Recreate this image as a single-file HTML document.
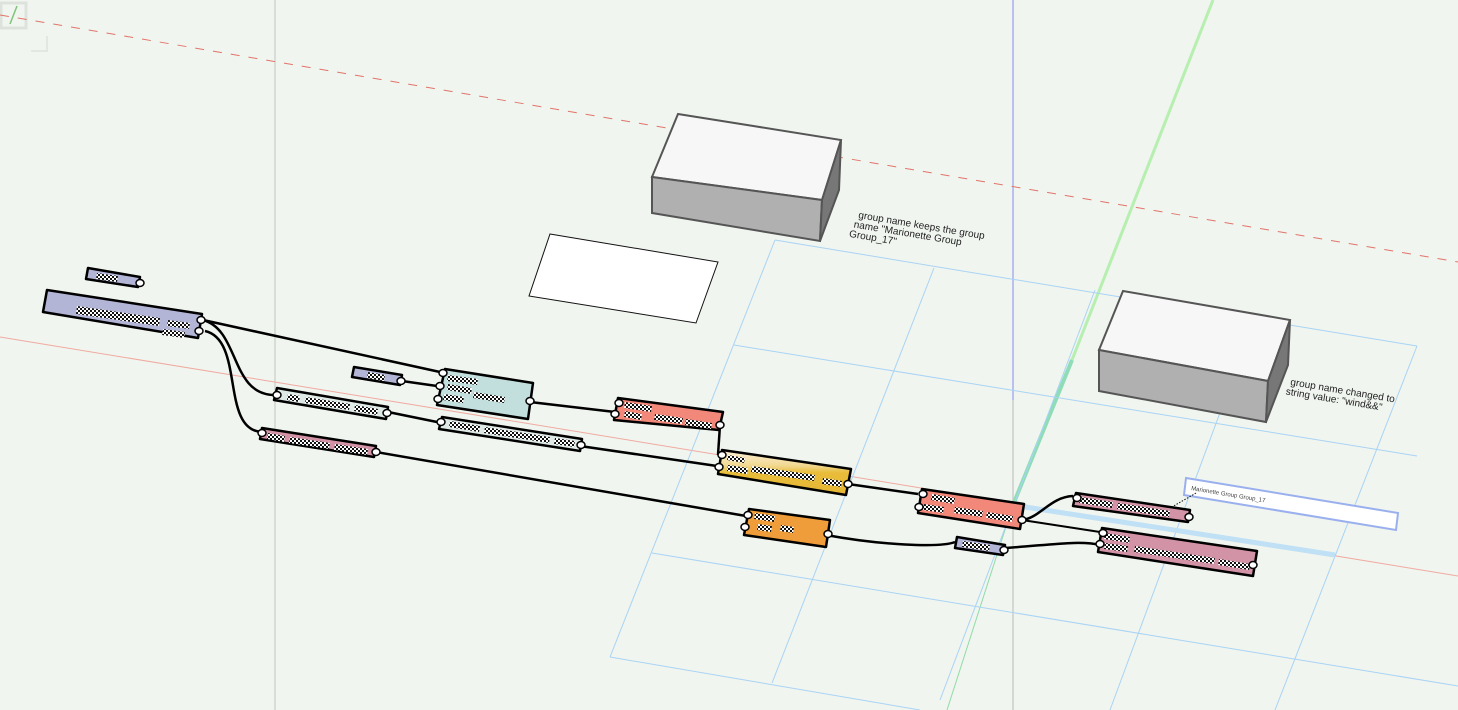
<!DOCTYPE html>
<html><head><meta charset="utf-8"><style>
html,body{margin:0;padding:0;background:#f0f5ef;}
svg{display:block;}
text{font-family:"Liberation Sans",sans-serif;}
</style></head><body>
<svg width="1458" height="710" viewBox="0 0 1458 710" xmlns="http://www.w3.org/2000/svg">
<defs>
<pattern id="ck" width="4" height="4" patternUnits="userSpaceOnUse">
<rect width="4" height="4" fill="#fff"/><rect width="2" height="2" fill="#111"/><rect x="2" y="2" width="2" height="2" fill="#111"/>
</pattern>
<linearGradient id="yel" x1="0" y1="0" x2="0" y2="1"><stop offset="0" stop-color="#fbf0d8"/><stop offset="0.35" stop-color="#f1d890"/><stop offset="0.5" stop-color="#e8bd3a"/><stop offset="1" stop-color="#e6b634"/></linearGradient>
</defs>
<rect width="1458" height="710" fill="#f0f5ef"/>
<rect x="1" y="3" width="25" height="25" fill="none" stroke="#dde2dc" stroke-width="3"/>
<path d="M31 51 H47 V36" fill="none" stroke="#e3e7e2" stroke-width="2"/>
<line x1="17" y1="6" x2="10" y2="24" stroke="#7ec47a" stroke-width="1.5"/>
<line x1="275" y1="0" x2="275" y2="710" stroke="#cfd5cf" stroke-width="1.5"/>
<line x1="1013" y1="0" x2="1013" y2="400" stroke="#a9b0ee" stroke-width="1.5"/>
<line x1="1013" y1="400" x2="1013" y2="710" stroke="#c9cfca" stroke-width="1.5"/>
<line x1="0" y1="15" x2="1458" y2="262" stroke="#e2746a" stroke-width="1" stroke-dasharray="9,9"/>
<line x1="0" y1="337" x2="1458" y2="576" stroke="#f0aaa0" stroke-width="1"/>
<line x1="1213" y1="0" x2="1072" y2="360" stroke="#b6efb0" stroke-width="3"/>
<line x1="1072" y1="360" x2="1013" y2="505" stroke="#8fdcb8" stroke-width="4"/>
<line x1="1013" y1="505" x2="947" y2="710" stroke="#8fdca8" stroke-width="1"/>
<g stroke="#a9d3f5" stroke-width="1" fill="none">
<line x1="775" y1="240" x2="1417" y2="346"/>
<line x1="734" y1="345" x2="1417" y2="456"/>
<line x1="652" y1="553" x2="1458" y2="686"/>
<line x1="610" y1="657" x2="920" y2="710"/>
<line x1="775" y1="240" x2="610" y2="657"/>
<line x1="934" y1="268" x2="772" y2="683"/>
<line x1="1095" y1="290" x2="940" y2="700"/>
<line x1="1255" y1="318" x2="1110" y2="710"/>
<line x1="1417" y1="346" x2="1275" y2="710"/>
</g>
<line x1="1025" y1="507" x2="1335" y2="555" stroke="#bfe0f5" stroke-width="5"/>
<polygon points="550,234 718,262 696,323 529,296" fill="#fff" stroke="#111" stroke-width="1"/>
<polygon points="678,114 841,140 822,200 652,177" fill="#f7f7f7" stroke="#555" stroke-width="2"/>
<polygon points="652,177 822,200 820,241 652,213" fill="#b0b0b0" stroke="#555" stroke-width="2"/>
<polygon points="822,200 841,140 839,190 820,241" fill="#777" stroke="#555" stroke-width="2"/>
<polygon points="1123,291 1290,320 1268,381 1099,350" fill="#f7f7f7" stroke="#555" stroke-width="2"/>
<polygon points="1099,350 1268,381 1266,422 1099,391" fill="#b0b0b0" stroke="#555" stroke-width="2"/>
<polygon points="1268,381 1290,320 1288,365 1266,422" fill="#777" stroke="#555" stroke-width="2"/>
<g font-size="10" fill="#222">
<text transform="translate(858,218) rotate(9.5)"><tspan x="0" y="0">group name keeps the group</tspan><tspan x="-3" y="10">name "Marionette Group</tspan><tspan x="-6" y="20">Group_17"</tspan></text>
<text transform="translate(1290,385) rotate(9.5)"><tspan x="0" y="0">group name changed to</tspan><tspan x="-3" y="10">string value: "wind&amp;&amp;"</tspan></text>
</g>
<polygon points="1186,478 1398,513 1396,530 1184,495" fill="#fff" stroke="#9ab0ee" stroke-width="2"/>
<text transform="translate(1191,490) rotate(9.5)" font-size="6" fill="#444">Marionette Group Group_17</text>
<line x1="1196" y1="493" x2="1172" y2="507" stroke="#111" stroke-dasharray="1.5,1.5"/>
<g fill="none" stroke="#000" stroke-width="2.5">
<path d="M203,320 L440,372"/>
<path d="M203,320 C240,330 230,395 275,395"/>
<path d="M205,331 C245,340 220,430 262,432"/>
<path d="M402,381 L437,386"/>
<path d="M388,412 L437,422"/>
<path d="M530,402 L615,412"/>
<path d="M580,446 L717,466"/>
<path d="M720,425 L718,455"/>
<path d="M376,452 L746,516"/>
<path d="M848,484 L918,494"/>
<path d="M826,535 C880,545 940,548 955,542"/>
<path d="M1005,548 C1050,545 1080,540 1100,545"/>
<path d="M1022,520 C1040,518 1050,497 1073,496"/>
<path d="M1022,520 L1100,532" stroke-width="2"/>
</g>
<g stroke="#000" stroke-width="2.5" stroke-linejoin="round">
<polygon points="88,268 140,277 138,287 86,279" fill="#b3b5d6"/>
<polygon points="47,290 202,314 198,338 43,312" fill="#b3b5d6"/>
<polygon points="354,367 402,375 400,385 352,377" fill="#b3b5d6"/>
<polygon points="445,369 533,383 528,419 437,405" fill="#c2dedd"/>
<polygon points="277,388 388,407 386,419 274,400" fill="#dfe9e5"/>
<polygon points="262,428 376,446 374,457 260,439" fill="#d393a6"/>
<polygon points="442,417 582,439 580,451 439,429" fill="#dfe9e5"/>
<polygon points="618,398 723,412 719,430 614,420" fill="#f2887a"/>
<polygon points="722,450 851,469 846,495 718,474" fill="url(#yel)"/>
<polygon points="922,489 1024,504 1020,529 918,513" fill="#f2887a"/>
<polygon points="749,509 830,520 826,547 744,535" fill="#ef9d3a"/>
<polygon points="957,537 1005,545 1003,555 955,548" fill="#b3b5d6"/>
<polygon points="1076,493 1190,510 1188,522 1073,506" fill="#d393a6"/>
<polygon points="1102,528 1257,551 1253,576 1098,552" fill="#d393a6"/>
</g>
<g fill="url(#ck)">
<polygon points="97,273 118,276 117,282 96,279"/>
<polygon points="77,306 160,318 159,326 76,314"/>
<polygon points="168,320 190,323 189,329 167,326"/>
<polygon points="163,329 185,332 184,338 162,335"/>
<polygon points="368,372 385,375 384,381 367,378"/>
<polygon points="448,375 478,379 477,385 447,381"/>
<polygon points="448,384 472,388 471,394 447,390"/>
<polygon points="474,392 505,397 504,403 473,398"/>
<polygon points="444,394 464,397 463,403 443,400"/>
<polygon points="288,394 300,396 299,402 287,400"/>
<polygon points="306,397 350,404 349,410 305,403"/>
<polygon points="355,405 378,409 377,415 354,411"/>
<polygon points="268,433 285,436 284,442 267,439"/>
<polygon points="290,437 330,443 329,449 289,443"/>
<polygon points="335,444 368,449 367,455 334,450"/>
<polygon points="450,421 480,426 479,432 449,427"/>
<polygon points="485,427 550,437 549,443 484,433"/>
<polygon points="555,438 575,441 574,447 554,444"/>
<polygon points="625,402 652,406 651,412 624,408"/>
<polygon points="625,411 642,414 641,420 624,417"/>
<polygon points="655,414 683,418 682,424 654,420"/>
<polygon points="686,419 712,423 711,429 685,425"/>
<polygon points="728,455 745,458 744,463 727,460"/>
<polygon points="728,465 748,468 747,474 727,471"/>
<polygon points="752,466 815,475 814,481 751,472"/>
<polygon points="823,478 842,481 841,487 822,484"/>
<polygon points="932,494 955,498 954,504 931,500"/>
<polygon points="924,504 944,507 943,513 923,510"/>
<polygon points="955,507 983,511 982,517 954,513"/>
<polygon points="987,512 1013,516 1012,522 986,518"/>
<polygon points="755,513 775,516 774,522 754,519"/>
<polygon points="758,524 772,526 771,532 757,530"/>
<polygon points="781,525 794,527 793,533 780,531"/>
<polygon points="963,541 990,545 989,551 962,547"/>
<polygon points="1080,497 1113,502 1112,508 1079,503"/>
<polygon points="1118,503 1170,511 1169,517 1117,509"/>
<polygon points="1105,533 1130,537 1129,543 1104,539"/>
<polygon points="1105,543 1128,546 1127,552 1104,549"/>
<polygon points="1135,546 1215,558 1214,564 1134,552"/>
<polygon points="1219,559 1250,564 1249,570 1218,565"/>
</g>
<g fill="#fff" stroke="#000" stroke-width="1.5">
<ellipse cx="140" cy="283" rx="4" ry="3.5"/>
<ellipse cx="201" cy="320" rx="4" ry="3.5"/>
<ellipse cx="199" cy="331" rx="4" ry="3.5"/>
<ellipse cx="401" cy="381" rx="4" ry="3.5"/>
<ellipse cx="443" cy="373" rx="4" ry="3.5"/>
<ellipse cx="440" cy="386" rx="4" ry="3.5"/>
<ellipse cx="438" cy="399" rx="4" ry="3.5"/>
<ellipse cx="530" cy="401" rx="4" ry="3.5"/>
<ellipse cx="277" cy="395" rx="4" ry="3.5"/>
<ellipse cx="387" cy="413" rx="4" ry="3.5"/>
<ellipse cx="262" cy="433" rx="4" ry="3.5"/>
<ellipse cx="376" cy="452" rx="4" ry="3.5"/>
<ellipse cx="441" cy="422" rx="4" ry="3.5"/>
<ellipse cx="581" cy="445" rx="4" ry="3.5"/>
<ellipse cx="619" cy="403" rx="4" ry="3.5"/>
<ellipse cx="615" cy="414" rx="4" ry="3.5"/>
<ellipse cx="720" cy="425" rx="4" ry="3.5"/>
<ellipse cx="722" cy="455" rx="4" ry="3.5"/>
<ellipse cx="719" cy="467" rx="4" ry="3.5"/>
<ellipse cx="848" cy="484" rx="4" ry="3.5"/>
<ellipse cx="923" cy="494" rx="4" ry="3.5"/>
<ellipse cx="919" cy="507" rx="4" ry="3.5"/>
<ellipse cx="1022" cy="520" rx="4" ry="3.5"/>
<ellipse cx="748" cy="515" rx="4" ry="3.5"/>
<ellipse cx="745" cy="527" rx="4" ry="3.5"/>
<ellipse cx="828" cy="534" rx="4" ry="3.5"/>
<ellipse cx="1004" cy="550" rx="4" ry="3.5"/>
<ellipse cx="1077" cy="498" rx="4" ry="3.5"/>
<ellipse cx="1189" cy="517" rx="4" ry="3.5"/>
<ellipse cx="1103" cy="533" rx="4" ry="3.5"/>
<ellipse cx="1100" cy="544" rx="4" ry="3.5"/>
<ellipse cx="1253" cy="565" rx="4" ry="3.5"/>
</g>
</svg>
</body></html>
